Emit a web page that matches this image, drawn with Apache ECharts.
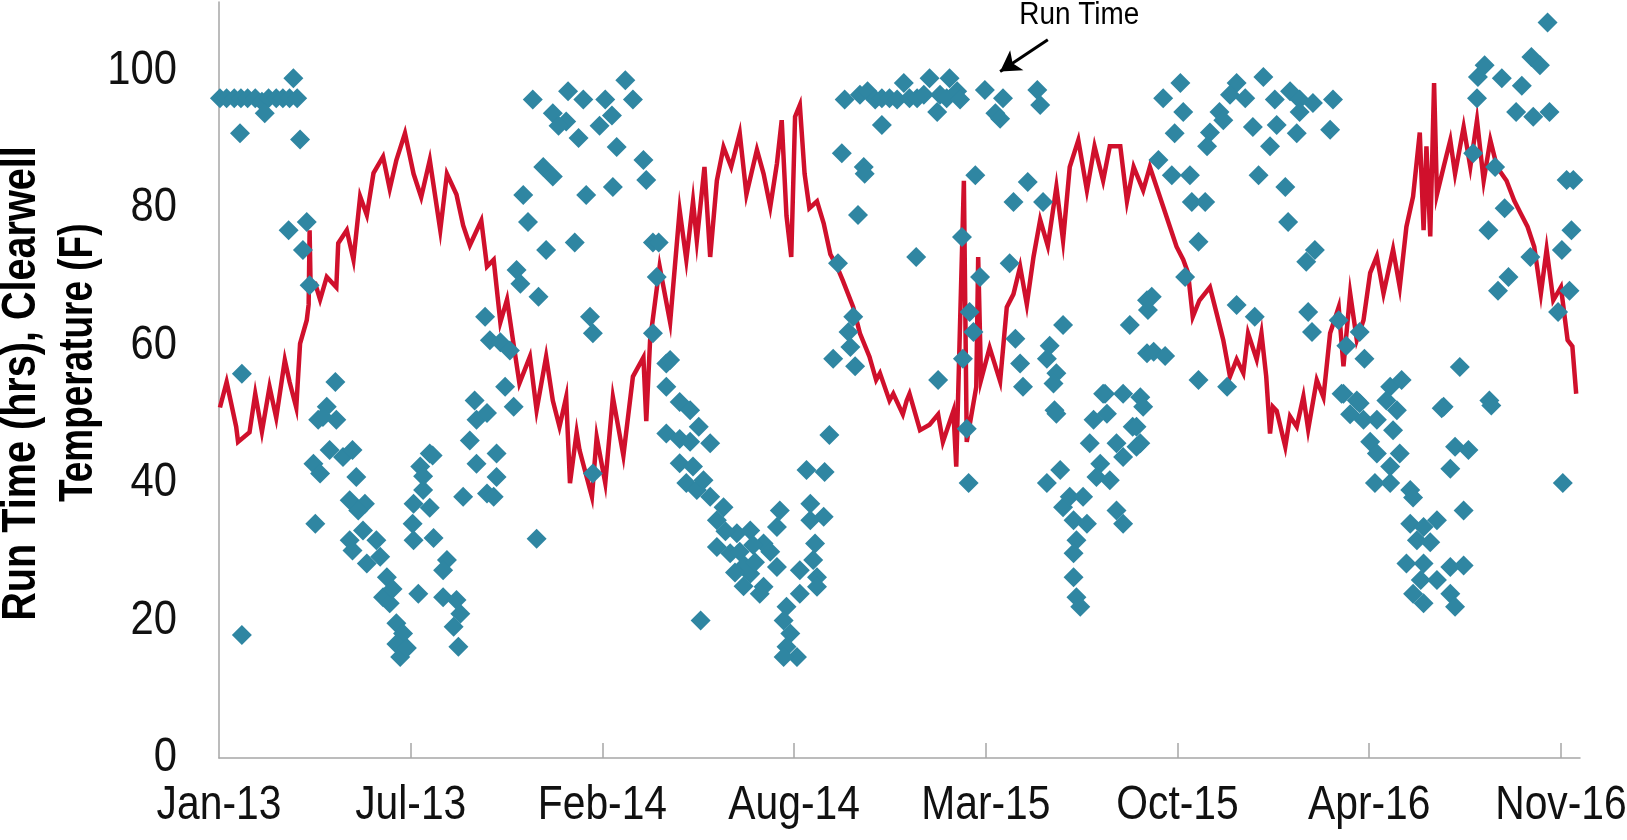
<!DOCTYPE html>
<html><head><meta charset="utf-8">
<script src="https://cdn.jsdelivr.net/npm/echarts@6/dist/echarts.min.js"></script>
<style>html,body{margin:0;padding:0;background:#fff}#c{width:1627px;height:840px}</style>
</head><body><div id="c"></div>
<script>
const FONT = "'Liberation Sans',Arial,sans-serif";
// x values are days since 1 Jan 2013
const xTickDays = [0, 201, 402, 603, 804, 1005, 1206, 1407];
const xTickLabels = ['Jan-13', 'Jul-13', 'Feb-14', 'Aug-14', 'Mar-15', 'Oct-15', 'Apr-16', 'Nov-16'];
const yTicks = [0, 20, 40, 60, 80, 100];
const yTitleLines = ['Run Time (hrs), Clearwell', 'Temperature (F)'];
const annotationText = 'Run Time';

// Clearwell temperature (F)
const tempDays = [1,8,18,20,32,38,45,53,60,69,74,81,85,92,94,95,96,101,106,113,123,125,134,141,148,155,162,172,179,186,195,204,212,221,232,239,249,256,263,275,281,288,295,302,308,315,326,333,343,350,357,364,368,375,378,391,396,405,413,424,434,445,448,452,462,473,483,490,497,501,509,515,522,529,537,546,553,564,571,578,585,590,595,600,604,609,614,619,627,634,641,648,654,665,672,682,689,693,703,707,717,721,724,735,745,754,759,770,773,781,784,794,796,799,808,819,826,833,840,847,854,861,869,878,885,892,901,910,918,927,934,945,952,959,969,976,990,997,1004,1011,1016,1021,1028,1039,1046,1053,1060,1067,1074,1079,1088,1093,1098,1102,1105,1109,1118,1123,1130,1137,1142,1151,1158,1165,1174,1179,1186,1193,1200,1207,1214,1221,1231,1238,1245,1252,1259,1263,1266,1270,1274,1277,1284,1291,1296,1305,1312,1319,1326,1333,1340,1350,1358,1365,1372,1379,1386,1392,1399,1407,1414,1419,1423];
const tempVals = [51,54.7,48.2,46,47.4,53,47.5,54,49.5,57.9,54.7,51,60.3,63.7,66,76.8,69,69,66.7,70,68.5,74.9,76.8,72.5,81.7,79,85.1,87.5,82.8,87,90.9,85,81.6,87,76.8,85,82,77.5,74.6,78.2,71.5,72.5,63.4,66.7,61,54.5,58.4,50.6,58.4,52,48.2,52.5,40,47.4,44.8,38,46.7,40,52.5,44,55.5,58.3,49,60.8,71.5,63.4,79.7,72.5,81,75.3,86,72.9,84,88.9,86,90.9,82,88.5,85,80.2,86.5,92.8,78.9,72.9,93.3,95,85,80,81,77.8,73.3,71.5,69.5,65.6,61.8,58.4,55,56,52,53,50,52,53,47.7,48.5,50,46,50.5,42.4,84,46,54,72.9,55,59.7,54.8,65.6,67.5,71.5,66,72.9,78.3,74.5,83.1,75.3,86,89.9,82.6,89,84,89,89,81,86,82.6,86,80.2,77.3,74.4,72.5,70.6,64.2,66.6,68.5,64.7,60.8,55.5,58,56,61.8,58,61.8,55.5,47.2,51.1,50.5,45.3,49.7,48.2,52.6,47.8,55,52.5,61.8,65.6,57,67.6,60.8,63.7,70.6,73,67.6,74,68.5,77.3,81.7,91,76.8,89,75.9,98.2,82,86,89.9,85,91.8,86,92.8,84,89.9,86,84,81.1,79.2,77.3,74.4,67.6,74,66.6,68.5,60.8,59.9,53];

// Run time (hrs)
const runDays = [1,8,16,23,30,38,45,52,60,67,74,82,48,78,22,85,73,92,88,95,24,24,
122,113,104,123,99,106,116,130,140,144,101,137,153,146,137,151,165,140,155,169,176,172,179,186,193,186,190,197,182,109,
221,224,211,214,214,204,221,203,204,225,209,239,235,235,249,253,246,251,
256,270,281,288,291,291,263,270,281,268,300,309,333,392,
469,469,483,469,483,494,483,490,501,494,
329,366,382,405,426,434,350,364,356,377,399,412,417,340,350,445,448,319,385,413,324,373,343,455,461,312,316,335,459,279,284,295,305,389,392,455,473,
656,672,680,688,695,703,711,718,724,732,739,745,753,756,763,766,774,777,803,814,819,822,858,861,695,
653,676,677,670,731,649,793,848,833,864,779,829,798,787,665,660,791,662,644,667,780,754,835,885,871,868,840,878,843,955,973,973,929,948,966,876,
503,515,497,508,515,529,522,543,522,536,557,571,557,571,585,588,585,567,505,546,551,562,541,578,531,550,560,
609,595,592,599,595,606,592,609,623,627,627,625,620,634,620,616,635,640,
784,786,
875,878,882,868,885,892,896,910,899,896,896,899,903,927,969,917,931,958,913,941,962,924,948,920,934,941,948,906,966,
990,1008,1011,1002,1067,1095,1060,1076,1049,1053,1039,1036,1084,1107,1123,1133,1133,1147,1168,1109,1130,1165,1102,985,999,1018,1090,1118,1020,1034,1121,1027,1149,1140,1013,978,974,1067,1086,1142,1146,1174,1196,1182,1201,980,992,1027,1057,1179,1193,1228,1240,1224,1235,1284,1301,1332,
1327,1320,1319,1345,1366,1360,1376,1385,1378,1395,1393,1315,1338,1348,1331,1420,1413,1418,1375,1408,1352,1341,1416,1404,
962,1177,1196,1186,1200,1214,1231,1207,1214,1238,1228,1212,1228,1249,1252,1282,1334,1296,1310,1291,1305,1249,1263,1277,1256,1270,1245,1263,1291,1305,1260,1277,1252,1263,1291,1296,1409];
const runHours = [96,96,96,96,96,96,95.5,96,96,96,96,96,93.8,98.9,90.9,90,76.8,78,73.9,68.8,55.9,17.9,
54.7,51.1,49.2,49.2,42.8,41.4,44.8,43.8,44.8,40.9,34.1,37.5,37,36,31.7,33.1,31.7,30.2,28.3,29.3,26.3,23.4,22.5,19.6,18.1,16.6,14.7,16,24.6,49.6,
44.3,44,42.4,41,39,37,36.4,34.1,31.7,32,23.9,28.8,27.3,23.4,23,21,19.1,16.2,
38,42.8,38.5,38,40.9,44.3,46.2,49.2,50.2,52,54,51.1,31.9,41.4,
57.4,54,51.8,47.2,46.4,46,42.9,40,39,50.6,
95.8,97,95.8,95.8,98.6,95.8,93.8,92.6,92,90.2,92,93.5,88.9,86,84.6,87,84.1,81.9,81.9,83.1,78,75,73.9,75,75,71,69,67.1,70,64.2,60.8,60.5,59.3,64.2,61.8,61.8,57.9,
95.8,96.5,97,95.8,96,96,95.8,98.2,96,96,96.5,98.9,94,96.5,96,98.9,97,95.8,97.2,93.8,93,96,97.2,95,92.1,
88,86,85,79,72.9,72,84.8,83.8,80.9,80.9,75.8,72,70,64.9,64.2,62,62,59.8,58.1,57,58.1,55,61,63,60,58.1,57.4,56,54,63,66.6,58.9,53,53,52.5,50.6,
48.2,45.8,42.4,40.4,38,36.5,34.6,32.7,30.7,29.8,33.1,31.2,26.8,24.9,27.8,36,33.6,23.9,20,30,28,28.5,27,30,33,25,31,
23.9,22,20,18.1,16.2,14.7,14.7,27.3,28.8,26.3,24.9,31.2,34.6,35.1,37,41.9,41.6,47,
47.9,40,
54.5,50.1,41.9,40,36.5,38,34.6,34.1,31.7,29.8,26.3,23.4,22,53,51.1,49.2,50.1,48.2,45.8,45.8,45.3,42.8,43.8,40.9,40.4,36,34.1,38,45.8,
96,98.2,94,90.9,98.2,99.1,96.5,96,94,92.8,91,89,91.8,95.8,97,95.8,94,95.3,95.8,92.1,90.9,91.4,89,87,84.8,84.8,84.8,83.1,80.9,80.9,78,75.1,73.9,72.2,70,67.1,65.2,65.9,64.2,64.9,62,63.7,62,60,58.1,59.1,58.5,55,54,53,52,54,55,52,50.6,51.1,56.9,52,
100.8,99.1,96,98.9,97.8,94,102,100.8,93.3,94,107,88,86,80,76.8,84.1,84.1,76.8,72.9,73.9,70,68,68,64.9,
48.2,53,51.6,50,49.2,49.2,47.7,46,44.3,44.3,42.4,40,40,39,37.9,50.9,51.3,45.3,44.8,42.1,36,34.1,33.6,34.6,31.7,31.4,28.3,28.3,27.8,28,25.9,25.9,23.9,22.5,23.9,22,40];

// annotation (data coordinates)
const arrowFrom = [869, 104.5];
const arrowTo = [819, 99.9];
const annotationAt = [902, 108];

const tempData = tempDays.map((d, i) => [d, tempVals[i]]);
const runData = runDays.map((d, i) => [d, runHours[i]]);

const chart = echarts.init(document.getElementById('c'), null, {renderer: 'canvas'});
chart.setOption({
  animation: false,
  backgroundColor: '#ffffff',
  grid: {left: 219, right: 47, top: 2, bottom: 82, containLabel: false},
  xAxis: {
    type: 'value', min: 0, max: 1427, interval: 201,
    axisLine: {show: true, lineStyle: {color: '#a6a6a6', width: 1.5}},
    axisTick: {show: true, inside: true, length: 15, customValues: xTickDays.slice(1), lineStyle: {color: '#a6a6a6', width: 1.5}},
    axisLabel: {show: false},
    splitLine: {show: false}
  },
  yAxis: {
    type: 'value', min: 0, max: 110, interval: 20,
    axisLine: {show: true, lineStyle: {color: '#a6a6a6', width: 1.5}},
    axisTick: {show: false},
    axisLabel: {show: false},
    splitLine: {show: false}
  },
  series: [
    {
      type: 'line', data: tempData, showSymbol: false, symbol: 'none', z: 2,
      lineStyle: {color: '#d0102c', width: 4.5, join: 'miter'}
    },
    {
      type: 'scatter', data: runData, symbol: 'diamond', symbolSize: 20, z: 3,
      itemStyle: {color: '#2f86a2', opacity: 1},
      markLine: {
        silent: true, symbol: ['none', 'arrow'], symbolSize: [18, 20],
        label: {show: false},
        lineStyle: {color: '#000', width: 3, type: 'solid'},
        data: [[{coord: arrowFrom}, {coord: arrowTo}]]
      }
    }
  ]
});

// Narrow-looking tick labels and titles placed with the axes' own scales
const px = (d) => chart.convertToPixel({xAxisIndex: 0}, d);
const py = (v) => chart.convertToPixel({yAxisIndex: 0}, v);
const axisY = py(0), axisX = px(0);
const g = [];
xTickDays.forEach((d, i) => g.push({
  type: 'text', x: px(d), y: axisY + 24, scaleX: 0.85, silent: true,
  style: {text: xTickLabels[i], fontSize: 48, fontFamily: FONT, fill: '#111', align: 'center', verticalAlign: 'top'}
}));
yTicks.forEach(v => g.push({
  type: 'text', x: axisX - 42, y: py(v), scaleX: 0.87, silent: true,
  style: {text: String(v), fontSize: 48, fontFamily: FONT, fill: '#111', align: 'right', verticalAlign: 'middle'}
}));
g.push({
  type: 'text', x: 22, y: py(54.5), rotation: Math.PI / 2, scaleX: 0.825, silent: true,
  style: {text: yTitleLines[0], fontSize: 48, fontWeight: 'bold', fontFamily: FONT, fill: '#000', align: 'center', verticalAlign: 'middle'}
});
g.push({
  type: 'text', x: 79, y: py(57.5), rotation: Math.PI / 2, scaleX: 0.77, silent: true,
  style: {text: yTitleLines[1], fontSize: 48, fontWeight: 'bold', fontFamily: FONT, fill: '#000', align: 'center', verticalAlign: 'middle'}
});
g.push({
  type: 'text', x: px(annotationAt[0]), y: py(annotationAt[1]), scaleX: 0.9, silent: true,
  style: {text: annotationText, fontSize: 31, fontFamily: FONT, fill: '#000', align: 'center', verticalAlign: 'middle'}
});
chart.setOption({graphic: g});
</script>
</body></html>
